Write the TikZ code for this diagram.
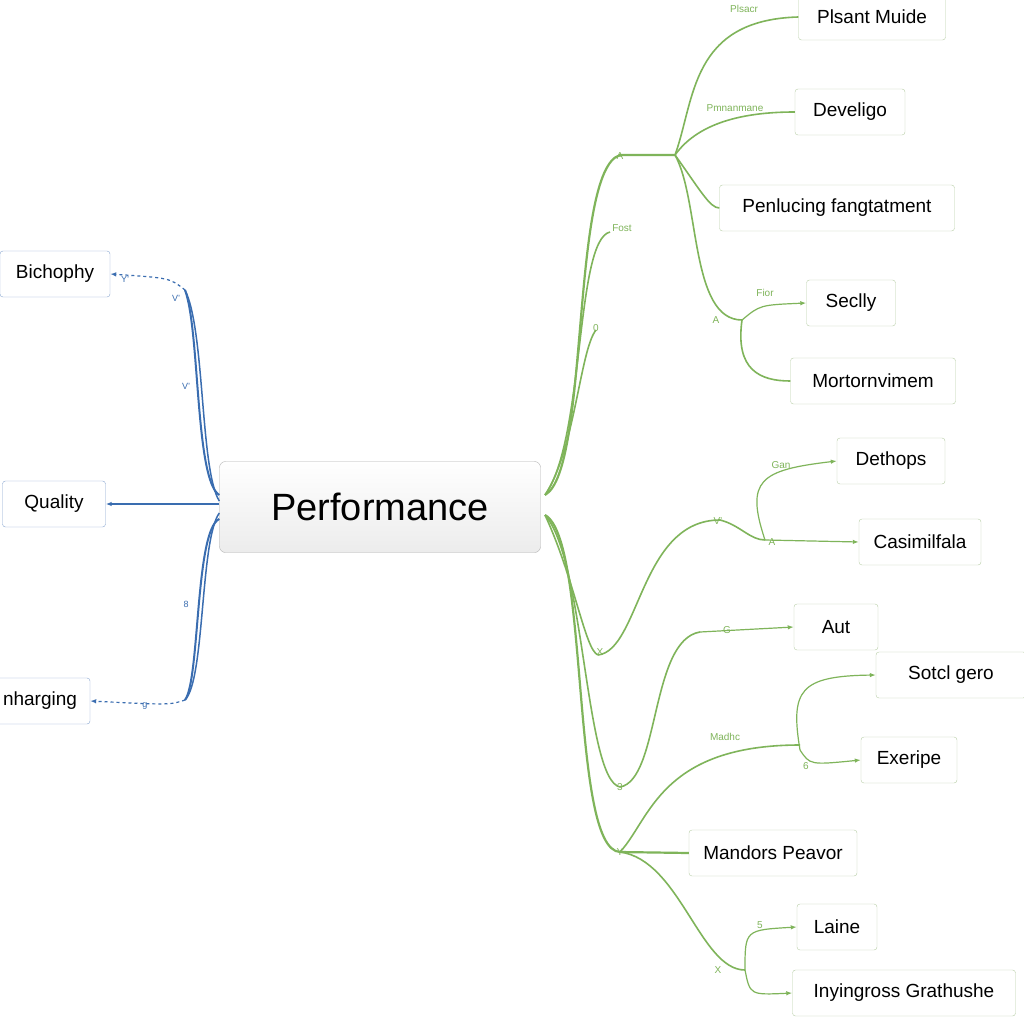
\documentclass[tikz,border=0pt]{standalone}
\usepackage{fontspec}
\setmainfont{Liberation Sans}
\usetikzlibrary{arrows.meta}
\definecolor{gr}{HTML}{7FB45A}
\definecolor{bl}{HTML}{3A6DB0}
\definecolor{bx}{HTML}{B9CFA8}
\begin{document}
\begin{tikzpicture}[x=1pt,y=-1pt,
 box/.style={draw=bx,rounded corners=3pt,fill=white,font=\fontsize{19}{22}\selectfont,inner sep=0pt,minimum height=46pt},
 bbox/.style={box,draw=bl!60},
 g/.style={draw=gr,line width=1.6pt},
 ga/.style={draw=gr,line width=1.2pt,-{Latex[length=6pt]}},
 lab/.style={text=gr,font=\fontsize{10}{12}\selectfont}]
\useasboundingbox[fill=white] (0,0) rectangle (1024,1024);
\node[draw=gray!60,rounded corners=6pt,top color=white,bottom color=gray!15,minimum width=321pt,minimum height=91pt,font=\fontsize{38}{44}\selectfont] (P) at (380,507) {Performance};
% left
\node[bbox,minimum width=110pt] (b1) at (55,274) {Bichophy};
\node[bbox,minimum width=103pt] (b2) at (54,504) {Quality};
\node[bbox,minimum width=100pt] (b3) at (40,701) {nharging};
\coordinate (lu) at (185,290); \coordinate (ld) at (185,700);
\draw[bl,line width=2pt] (P.west) ++(0,-12) .. controls (195,480) and (200,330) .. (lu);
\draw[bl,line width=1.5pt] (P.west) ++(0,-6) .. controls (200,470) and (205,330) .. (lu);
\draw[bl,line width=2pt] (P.west) ++(0,12) .. controls (195,530) and (200,680) .. (ld);
\draw[bl,line width=1.5pt] (P.west) ++(0,6) .. controls (200,540) and (205,680) .. (ld);
\draw[bl,dashed,line width=1.2pt,-{Latex[length=6pt]}] (lu) .. controls (170,278) .. (b1.east);
\draw[bl,line width=1.2pt,-{Latex[length=6pt]}] (P.west) ++(0,-3) -- (b2.east);
\draw[bl,dashed,line width=1.2pt,-{Latex[length=6pt]}] (ld) .. controls (170,705) .. (b3.east);
\node[text=bl,font=\small] (l1) at (125,279) {Y'};
\node[text=bl,font=\small] (l2) at (176,298) {V'};
\node[text=bl,font=\small] (l3) at (186,386) {V'};
\node[text=bl,font=\small] (l4) at (186,604) {8};
\node[text=bl,font=\small] (l5) at (145,706) {g};
% right boxes
\node[box,minimum width=147pt] (r1) at (872,17) {Plsant Muide};
\node[box,minimum width=110pt] (r2) at (850,112) {Develigo};
\node[box,minimum width=235pt] (r3) at (837,208) {Penlucing fangtatment};
\node[box,minimum width=89pt] (r4) at (851,303) {Seclly};
\node[box,minimum width=165pt] (r5) at (873,381) {Mortornvimem};
\node[box,minimum width=108pt] (r6) at (891,461) {Dethops};
\node[box,minimum width=122pt] (r7) at (920,542) {Casimilfala};
\node[box,minimum width=84pt] (r8) at (836,627) {Aut};
\node[box,minimum width=150pt] (r9) at (951,675) {Sotcl gero};
\node[box,minimum width=96pt] (r10) at (909,760) {Exeripe};
\node[box,minimum width=168pt] (r11) at (773,853) {Mandors Peavor};
\node[box,minimum width=80pt] (r12) at (837,927) {Laine};
\node[box,minimum width=223pt] (r13) at (904,993) {Inyingross Grathushe};
% hubs
\coordinate (h1) at (620,155); \coordinate (h1b) at (675,155);
\coordinate (h2) at (742,320);
\coordinate (h3) at (765,540);
\coordinate (h4) at (800,750);
\coordinate (h5) at (745,970);
\coordinate (s1) at (545,495); \coordinate (s2) at (545,515);
% trunks
\draw[g,line width=2.2pt] (s1) .. controls (590,470) and (570,170) .. (h1) -- (h1b);
\draw[g] (s1) .. controls (585,440) and (575,240) .. (610,232);
\draw[g] (s1) .. controls (575,450) and (580,350) .. (596,330);
\draw[g,line width=2.2pt] (s2) .. controls (590,540) and (570,850) .. (620,852) -- (r11.west);
\draw[g] (s2) .. controls (585,560) and (585,780) .. (620,787);
\draw[g] (s2) .. controls (575,580) and (585,650) .. (598,655);
\draw[g] (620,787) .. controls (660,780) and (650,640) .. (700,632);
\draw[g] (598,655) .. controls (640,650) and (640,520) .. (720,520);
\draw[g] (620,852) .. controls (650,820) and (660,745) .. (800,745);
\draw[g] (620,852) .. controls (680,860) and (700,970) .. (h5);
% top branches
\draw[g] (h1b) .. controls (695,100) and (690,20) .. (r1.west);
\draw[g] (h1b) .. controls (700,120) and (750,112) .. (r2.west);
\draw[g] (h1b) .. controls (700,190) and (710,208) .. (r3.west);
\draw[g] (h1b) .. controls (700,200) and (690,320) .. (h2);
\draw[ga] (h2) .. controls (760,305) .. (r4.west);
\draw[g] (h2) .. controls (735,370) and (760,381) .. (r5.west);
% middle
\draw[g] (720,520) .. controls (740,525) and (750,540) .. (h3);
\draw[ga] (h3) .. controls (745,480) and (760,470) .. (r6.west);
\draw[ga] (h3) -- (r7.west);
\draw[ga] (700,632) -- (r8.west);
\draw[ga] (h4) .. controls (790,690) and (800,676) .. (r9.west);
\draw[ga] (h4) .. controls (810,765) .. (r10.west);
\draw[ga] (h5) .. controls (745,930) .. (r12.west);
\draw[ga] (h5) .. controls (750,995) .. (r13.west);
% small labels
\node[lab] (t1) at (744,9) {Plsacr};
\node[lab] (t2) at (735,108) {Pmnanmane};
\node[lab] (t3) at (620,156) {A};
\node[lab] (t4) at (622,228) {Fost};
\node[lab] (t5) at (596,328) {0};
\node[lab] (t6) at (765,293) {Fior};
\node[lab] (t7) at (716,320) {A};
\node[lab] (t8) at (781,465) {Gan};
\node[lab] (t9) at (718,521) {V'};
\node[lab] (t10) at (772,542) {A};
\node[lab] (t11) at (600,652) {X};
\node[lab] (t12) at (727,630) {G};
\node[lab] (t13) at (725,737) {Madhc};
\node[lab] (t14) at (806,766) {6};
\node[lab] (t15) at (620,787) {3};
\node[lab] (t16) at (620,852) {Y};
\node[lab] (t17) at (760,925) {5};
\node[lab] (t18) at (718,970) {X};
\end{tikzpicture}
\end{document}
